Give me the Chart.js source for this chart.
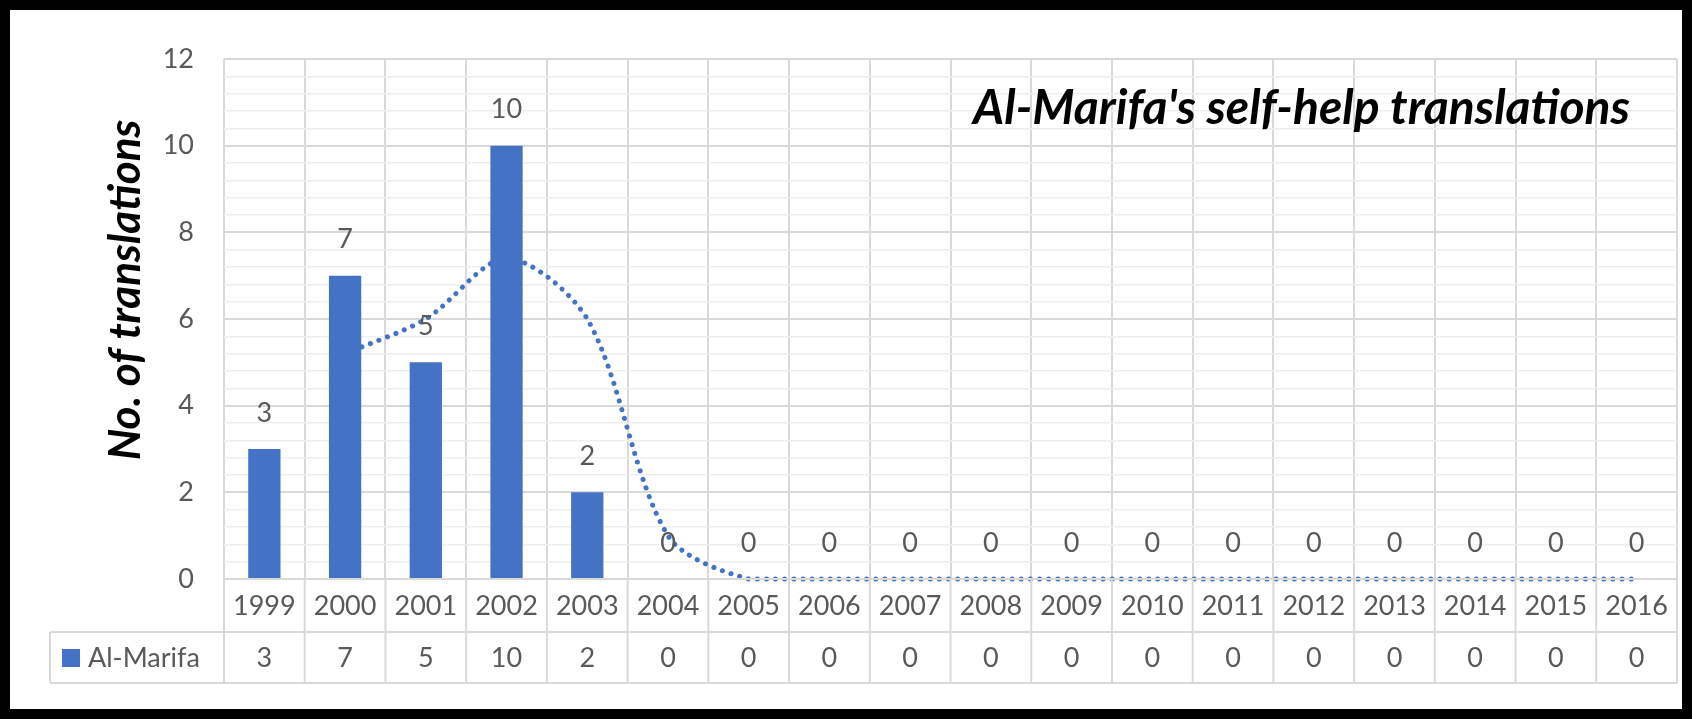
<!DOCTYPE html>
<html>
<head>
<meta charset="utf-8">
<script src="https://cdn.jsdelivr.net/npm/chart.js@4"></script>
<style>
  html, body { margin: 0; padding: 0; background: #fff; }
  #wrap { width: 1692px; height: 719px; position: relative; }
</style>
</head>
<body>
<div id="wrap"><canvas id="myChart" width="1692" height="719"></canvas></div>
<script>
// données
var years = ['1999', '2000', '2001', '2002', '2003', '2004', '2005', '2006', '2007', '2008',
    '2009', '2010', '2011', '2012', '2013', '2014', '2015', '2016'];
var translations = [3, 7, 5, 10, 2, 0, 0, 0, 0, 0, 0, 0, 0, 0, 0, 0, 0, 0];
// moyenne mobile (2 périodes)
var trend = [null, 5.2, 6, 7.4, 6, 1, 0, 0, 0, 0, 0, 0, 0, 0, 0, 0, 0, 0];
var seriesName = 'Al-Marifa';
var chartTitle = "Al-Marifa's self-help translations";
var yTitle = 'No. of translations';

var bleu = '#4472C4';
var gris = '#595959';
var grille = '#d9d9d9';
var police = 'Lato, "Open Sans", sans-serif';

var tableau = {
    id: 'tableau',
    afterDraw: function (chart) {
        var c = chart.ctx;
        var x = chart.scales.x;
        var area = chart.chartArea;
        var w = (area.right - area.left) / years.length;
        var rowTop = area.bottom, rowMid = 632, rowBot = 683;
        c.save();
        // lignes du tableau
        c.strokeStyle = grille;
        c.lineWidth = 2;
        c.beginPath();
        for (var i = 0; i <= years.length; i++) {
            var gx = area.left + i * w;
            c.moveTo(gx, rowTop); c.lineTo(gx, rowBot);
        }
        c.moveTo(area.left, rowTop); c.lineTo(area.right, rowTop);
        c.moveTo(50, rowMid); c.lineTo(area.right, rowMid);
        c.moveTo(50, rowBot); c.lineTo(area.right, rowBot);
        c.moveTo(50, rowMid); c.lineTo(50, rowBot);
        c.stroke();
        // textes
        c.fillStyle = gris;
        c.font = '27px ' + police;
        c.textAlign = 'center';
        c.textBaseline = 'middle';
        years.forEach(function (y, i) {
            var px = x.getPixelForValue(i);
            c.fillText(y, px, (rowTop + rowMid) / 2 + 1);
            c.fillText(String(translations[i]), px, (rowMid + rowBot) / 2 + 1);
        });
        // légende
        c.fillStyle = bleu;
        c.fillRect(62, 649, 18, 18);
        c.fillStyle = gris;
        c.textAlign = 'left';
        c.fillText(seriesName, 88, 658);
        // étiquettes des barres
        var y = chart.scales.y;
        translations.forEach(function (v, i) {
            c.textAlign = 'center';
            c.fillText(String(v), x.getPixelForValue(i), y.getPixelForValue(v) - 36);
        });
        // titres
        c.fillStyle = '#000';
        c.font = 'bold italic 48px ' + police;
        c.textAlign = 'right';
        c.textBaseline = 'alphabetic';
        c.fillText(chartTitle, 1630, 124);
        c.font = 'bold italic 44px ' + police;
        c.save();
        c.translate(140, 290);
        c.rotate(-Math.PI / 2);
        c.textAlign = 'center';
        c.fillText(yTitle, 0, 0);
        c.restore();
        // cadre noir
        c.strokeStyle = '#000';
        c.lineWidth = 10;
        c.strokeRect(5, 5, 1682, 709);
        c.restore();
    }
};

function estMajeur(v) {
    return Math.abs(v / 2 - Math.round(v / 2)) < 1e-6;
}

var ctx = document.getElementById('myChart').getContext('2d');
var myChart = new Chart(ctx, {
    type: 'bar',
    data: {
        labels: years,
        datasets: [{
            type: 'line',
            label: 'trend',
            data: trend,
            borderColor: bleu,
            borderWidth: 5,
            borderDash: [0.1, 9],
            borderCapStyle: 'round',
            pointRadius: 0,
            tension: 0.3,
            fill: false,
            clip: false,
            order: 0
        }, {
            label: seriesName,
            data: translations,
            backgroundColor: bleu,
            categoryPercentage: 1,
            barPercentage: 0.4,
            order: 1
        }]
    },
    options: {
        responsive: false,
        animation: false,
        layout: { padding: { left: 0, top: 59, right: 15, bottom: 140 } },
        plugins: { legend: { display: false }, tooltip: { enabled: false } },
        scales: {
            x: {
                offset: true,
                ticks: { display: false },
                border: { display: false },
                grid: { offset: true, color: grille, lineWidth: 2, drawTicks: false }
            },
            y: {
                min: 0,
                max: 12,
                afterFit: function (scale) { scale.width = 224; },
                border: { display: false },
                ticks: {
                    stepSize: 0.4,
                    autoSkip: false,
                    padding: 30,
                    color: gris,
                    font: { family: police, size: 27 },
                    callback: function (v) { return estMajeur(v) ? Math.round(v) : ''; }
                },
                grid: {
                    drawTicks: false,
                    color: function (c) { return estMajeur(c.tick.value) ? grille : '#efefef'; },
                    lineWidth: function (c) { return estMajeur(c.tick.value) ? 2 : 1.5; }
                }
            }
        }
    },
    plugins: [tableau]
});
</script>
</body>
</html>
